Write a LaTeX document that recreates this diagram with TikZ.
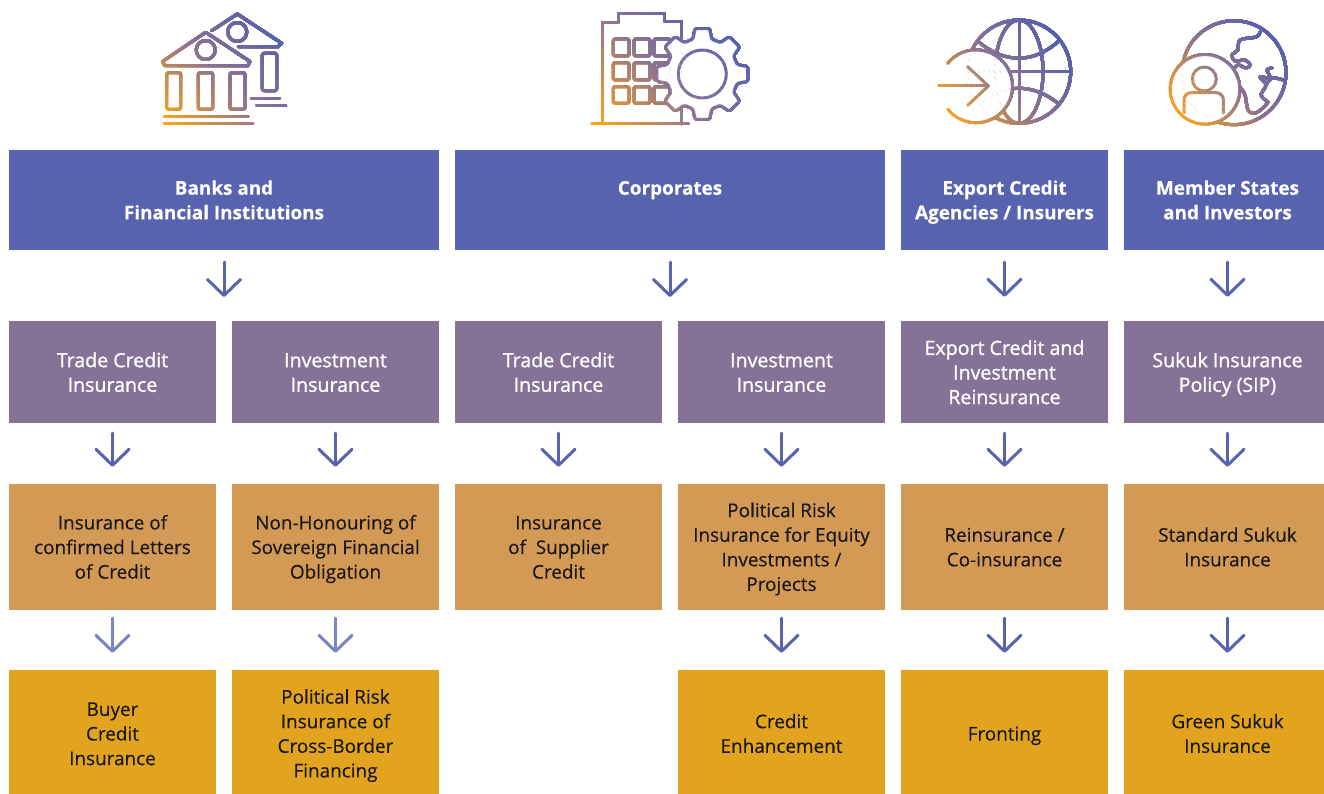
\documentclass[tikz,border=0pt]{standalone}
\usepackage{fontspec}
\setmainfont[FakeBold=0.3]{Open Sans}
\newfontfamily\medf[FakeBold=1.1]{Open Sans}
\usetikzlibrary{arrows.meta}
\definecolor{hdrc}{HTML}{5763AE}
\definecolor{purc}{HTML}{857397}
\definecolor{orac}{HTML}{D39A56}
\definecolor{golc}{HTML}{E2A41E}
\definecolor{arrc}{HTML}{5763AE}
\definecolor{arrl}{HTML}{7B84C2}
\definecolor{txtc}{HTML}{1A1718}
\definecolor{ga}{HTML}{FAA21B}
\definecolor{gm}{HTML}{8A7396}
\definecolor{gb}{HTML}{5560AE}
% #1 = height reserved above the first baseline, so that the text sits exactly
\newcommand{\tx}[2]{\mbox{}\\[\dimexpr#1pt-24.6pt\relax]#2\rule[-6pt]{0pt}{0pt}}
\tikzset{
  x=1pt,y=-1pt,
  boxbase/.style={rectangle,inner sep=0pt,align=center},
  hdrfont/.style={font=\fontsize{18.9}{24.6}\selectfont\bfseries},
  purfont/.style={font=\fontsize{19.6}{24.6}\selectfont\medf},
  darkfont/.style={font=\fontsize{18.9}{24.6}\selectfont},
  hdrbox/.style={boxbase,hdrfont,fill=hdrc,text=white,minimum height=100pt},
  purbox/.style={boxbase,purfont,fill=purc,text=white,minimum height=102pt},
  orabox/.style={boxbase,darkfont,fill=orac,text=txtc,minimum height=126pt},
  golbox/.style={boxbase,darkfont,fill=golc,text=txtc,minimum height=124pt},
  wa/.style={minimum width=207pt},
  wb/.style={minimum width=430pt},
  wc/.style={minimum width=200pt},
  label hdr/.style={boxbase,hdrfont,text=white},
  label pur/.style={boxbase,purfont,text=white},
  label dark/.style={boxbase,darkfont,text=txtc},
  arr/.style={draw=arrc,line width=3pt,line cap=round,-{Straight Barb[length=16pt,width=33pt,round]}},
  arra/.style={arr,shorten <=12pt,shorten >=24pt},
  arrb/.style={arr,shorten <=10pt,shorten >=17pt},
  arrc/.style={arr,shorten <=8pt,shorten >=17pt},
  icn/.style={draw,line width=3pt,line cap=round,line join=round},
}
% gradient stroke: repaint the icon in half-planes, lower-left to upper-right
\newcommand{\gradicon}[5]{%
  \foreach \ii in {0,...,32}{%
    \pgfmathsetmacro{\tt}{\ii/32}%
    \pgfmathsetmacro{\pc}{\tt<0.5?\tt*200:(\tt-0.5)*200}%
    \pgfmathsetmacro{\vx}{#3-#1}\pgfmathsetmacro{\vy}{#4-#2}%
    \pgfmathsetmacro{\px}{#1+\tt*\vx}\pgfmathsetmacro{\py}{#2+\tt*\vy}%
    \ifnum\ii<16\colorlet{cur}{gm!\pc!ga}\else\colorlet{cur}{gb!\pc!gm}\fi
    \begin{scope}[color=cur]
      \ifnum\ii>0
      \clip (\px-2*\vy,\py+2*\vx) -- (\px+2*\vy,\py-2*\vx) -- (\px+2*\vy+3*\vx,\py-2*\vx+3*\vy) -- (\px-2*\vy+3*\vx,\py+2*\vx+3*\vy) -- cycle;
      \fi
      #5
    \end{scope}
  }%
}
\newcommand{\bankicon}{%
  \draw[icn] (211.7,30.7) -- (237.3,14) -- (281.7,43.3) -- (278,46.7) -- (238.3,46.7);
  \draw[icn] (237.3,32) circle[radius=9.5];
  \draw[icn,rounded corners=2pt] (262.3,53.3) rectangle (276.7,90.7);
  \draw[icn] (251.7,98.3) -- (279.3,98.3);
  \draw[icn] (256.7,105.3) -- (285.7,105.3);
  \draw[icn] (205.7,32.3) -- (162.5,61.5) -- (165,65.7) -- (248,65.7) -- (250,61.5) -- cycle;
  \draw[icn] (205.7,50) circle[radius=9.5];
  \draw[icn,rounded corners=2pt] (166.7,72.7) rectangle (180.7,109.3);
  \draw[icn,rounded corners=2pt] (198.3,72.7) rectangle (212.7,109.3);
  \draw[icn,rounded corners=2pt] (230,72.7) rectangle (245,109.3);
  \draw[icn] (164,116.7) -- (248,116.7);
  \draw[icn] (164,124) -- (252.7,124);
}
\newcommand{\corpicon}{%
  \draw[icn] (602.7,124) -- (602.7,22.7) -- (618.3,22.7) -- (618.3,14) -- (664,14) -- (664,22) -- (681.7,22) -- (681.7,124);
  \draw[icn] (591.7,124) -- (688.3,124);
  \foreach \xa/\xb in {613.3/629,634/650,654/670}{
    \foreach \ya/\yb in {39/56,62.7/80,86.7/103.3}{
      \draw[icn,rounded corners=2pt] (\xa,\ya) rectangle (\xb,\yb);
    }
  }
  \begin{scope}[shift={(702.3,74)}]
    \draw[icn,fill=white,rounded corners=1.5pt] (-15:36) -- (-9:46) -- (9:46) -- (15:36)
      -- (30:36) -- (36:46) -- (54:46) -- (60:36)
      -- (75:36) -- (81:46) -- (99:46) -- (105:36)
      -- (120:36) -- (126:46) -- (144:46) -- (150:36)
      -- (165:36) -- (171:46) -- (189:46) -- (195:36)
      -- (210:36) -- (216:46) -- (234:46) -- (240:36)
      -- (255:36) -- (261:46) -- (279:46) -- (285:36)
      -- (300:36) -- (306:46) -- (324:46) -- (330:36) -- cycle;
    \draw[icn] (0,0) circle[radius=24];
  \end{scope}
}
\newcommand{\expicon}{%
  \draw[icn] (1019,71.7) circle[radius=51.7];
  \draw[icn] (1019,71.7) ellipse[x radius=24,y radius=51.7];
  \draw[icn] (1019,20) -- (1019,123.4);
  \draw[icn] (967.3,71.7) -- (1070.7,71.7);
  \draw[icn] (978.3,41.7) .. controls (1005,63.7) and (1033,63.7) .. (1058,41.7);
  \draw[icn] (980,103.3) .. controls (1005,83.3) and (1033,83.3) .. (1058,103.3);
  \fill[white] (976,86.3) circle[radius=36.3];
  \draw[icn] (976,86.3) ++(219:36.3) arc[start angle=219,end angle=501,radius=36.3];
  \draw[icn] (939,86) -- (988.3,86);
  \draw[icn] (967.7,66.7) -- (988.3,86) -- (967.7,105.3);
}
\newcommand{\invicon}{%
  \draw[icn] (1234,72.7) circle[radius=52];
  \draw[icn] plot[smooth,tension=0.6] coordinates {(1260,32) (1256,37) (1240,40) (1238,50) (1232,55) (1235,61) (1245,60) (1250,65) (1246,68) (1238,65) (1233,70)};
  \draw[icn] plot[smooth,tension=0.6] coordinates {(1240,87) (1245,95) (1248,110) (1255,113) (1263,108) (1268,102)};
  \draw[icn] plot[smooth,tension=0.6] coordinates {(1272,68) (1267,70) (1270,78) (1260,77) (1266,85) (1261,95) (1268,102)};
  \draw[icn] plot[smooth,tension=0.6] coordinates {(1266,85) (1272,78) (1283,80)};
  \fill[white] (1205,89.3) circle[radius=34.7];
  \draw[icn] (1205,89.3) circle[radius=34.7];
  \draw[icn] (1204.3,79) circle[radius=12];
  \draw[icn,rounded corners=7pt] (1184,113) -- (1184,92.7) -- (1223.3,92.7) -- (1223.3,113);
}
\begin{document}
\begin{tikzpicture}
\useasboundingbox (0,0) rectangle (1324,794);
\fill[white] (0,0) rectangle (1324,794);

\gradicon{170}{126}{265}{25}{\bankicon}
\gradicon{600}{126}{715}{25}{\corpicon}
\gradicon{950}{120}{1050}{35}{\expicon}
\gradicon{1175}{115}{1270}{35}{\invicon}

% headers
\node[hdrbox,wb] (ha) at (224,200) {\tx{20}{Banks and\\Financial Institutions}};
\node[hdrbox,wb] (hb) at (670,200) {\tx{20}{Corporates\\\mbox{}}};
\node[hdrbox,wa] (hc) at (1004.5,200) {\tx{20}{Export Credit\\Agencies / Insurers}};
\node[hdrbox,wc] (hd) at (1224,200) {};
\node[label hdr] (hdt) at (1227.5,200) {\tx{20}{Member States\\and Investors}};
% row 2
\node[purbox,wa] (pa) at (112.5,372) {\tx{21}{Trade Credit\\Insurance}};
\node[purbox,wa] (pb) at (335.5,372) {\tx{21}{Investment\\Insurance}};
\node[purbox,wa] (pc) at (558.5,372) {\tx{21}{Trade Credit\\Insurance}};
\node[purbox,wa] (pd) at (781.5,372) {\tx{21}{Investment\\Insurance}};
\node[purbox,wa] (pe) at (1004.5,372) {\tx{21}{Export Credit and\\Investment\\Reinsurance}};
\node[purbox,wc] (pf) at (1224,372) {};
\node[label pur] (pft) at (1227.5,372) {\tx{21}{Sukuk Insurance\\Policy (SIP)}};
% row 3
\node[orabox,wa] (oa) at (112.5,547) {\tx{20}{Insurance of\\confirmed Letters\\of Credit}};
\node[orabox,wa] (ob) at (335.5,547) {\tx{20}{Non-Honouring of\\Sovereign Financial\\Obligation}};
\node[orabox,wa] (oc) at (558.5,547) {\tx{20}{Insurance\\of\ \ Supplier\\Credit}};
\node[orabox,wa] (od) at (781.5,547) {\tx{20}{Political Risk\\Insurance for Equity\\Investments /\\Projects}};
\node[orabox,wa] (oe) at (1004.5,547) {\tx{20}{Reinsurance /\\Co-insurance}};
\node[orabox,wc] (of) at (1224,547) {};
\node[label dark] (oft) at (1227.5,547) {\tx{20}{Standard Sukuk\\Insurance}};
% row 4
\node[golbox,wa] (ga) at (112.5,732) {\tx{23}{Buyer\\Credit\\Insurance}};
\node[golbox,wa] (gb) at (335.5,732) {\tx{23}{Political Risk\\Insurance of\\Cross-Border\\Financing}};
\node[golbox,wa] (gd) at (781.5,732) {\tx{23}{Credit\\Enhancement}};
\node[golbox,wa] (ge) at (1004.5,732) {\tx{23}{Fronting}};
\node[golbox,wc] (gf) at (1224,732) {};
\node[label dark] (gft) at (1227.5,732) {\tx{23}{Green Sukuk\\Insurance}};

\coordinate (axis) at (1227.5,0);
\coordinate (ja) at (224,321);
\coordinate (jb) at (670,321);
% connectors
\draw[arra] (ha.south) -- (ja);
\draw[arra] (hb.south) -- (jb);
\draw[arra] (hc.south) -- (pe.north);
\draw[arra] (hd.south -| axis) -- (pf.north -| axis);
\draw[arrb] (pa.south) -- (oa.north);
\draw[arrb] (pb.south) -- (ob.north);
\draw[arrb] (pc.south) -- (oc.north);
\draw[arrb] (pd.south) -- (od.north);
\draw[arrb] (pe.south) -- (oe.north);
\draw[arrb] (pf.south -| axis) -- (of.north -| axis);
\draw[arrc,draw=arrl] (oa.south) -- (ga.north);
\draw[arrc,draw=arrl] (ob.south) -- (gb.north);
\draw[arrc] (od.south) -- (gd.north);
\draw[arrc] (oe.south) -- (ge.north);
\draw[arrc] (of.south -| axis) -- (gf.north -| axis);
\end{tikzpicture}
\end{document}
